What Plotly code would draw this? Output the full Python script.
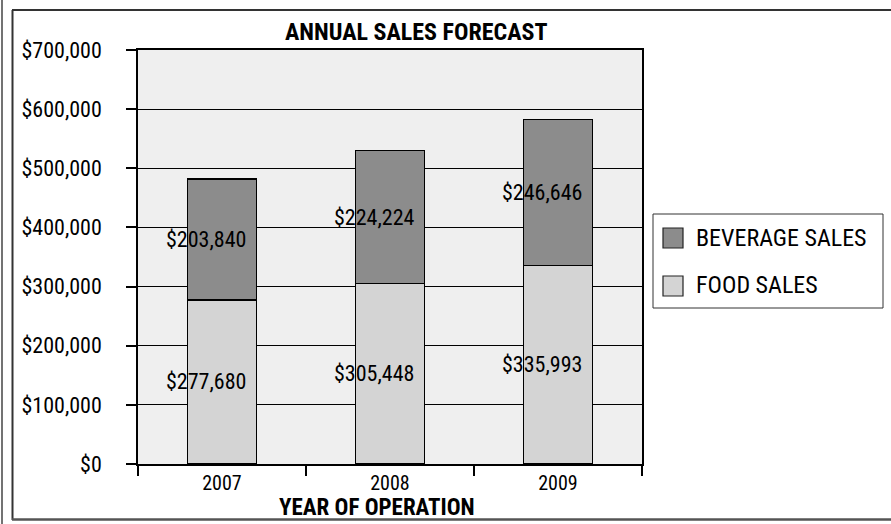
import plotly.graph_objects as go

years = ["2007", "2008", "2009"]
food_sales = [277680, 305448, 335993]
beverage_sales = [203840, 224224, 246646]
series_names = ["BEVERAGE SALES", "FOOD SALES"]
title_text = "ANNUAL SALES FORECAST"
x_title = "YEAR OF OPERATION"

FONT = "Liberation Sans Narrow, Arial Narrow, Roboto Condensed, Liberation Sans, sans-serif"
BEV = "#8c8c8c"
FOOD = "#d4d4d4"

W, H = 891, 524
L, R, T, B = 138, 642, 50, 464  # plot area pixels


def px(x):
    return (x - L) / (R - L)


def py(y):
    return (B - y) / (B - T)


fig = go.Figure()
fig.add_trace(go.Bar(x=years, y=food_sales, name=series_names[1],
                     marker=dict(color=FOOD, line=dict(color="black", width=1.5))))
fig.add_trace(go.Bar(x=years, y=beverage_sales, name=series_names[0],
                     marker=dict(color=BEV, line=dict(color="black", width=1.5))))

annotations = []
for i, (f, b) in enumerate(zip(food_sales, beverage_sales)):
    annotations.append(dict(x=i, y=f / 2, text=f"${f:,}", showarrow=False, xshift=-16,
                            font=dict(family=FONT, size=22, color="black")))
    annotations.append(dict(x=i, y=f + b / 2, text=f"${b:,}", showarrow=False, xshift=-16,
                            font=dict(family=FONT, size=22, color="black")))

annotations.append(dict(xref="paper", yref="paper", x=px(416), y=py(32), text=f"<b>{title_text}</b>",
                        showarrow=False, xanchor="center", yanchor="middle",
                        font=dict(family=FONT, size=24, color="black")))
annotations.append(dict(xref="paper", yref="paper", x=px(377), y=py(507), text=f"<b>{x_title}</b>",
                        showarrow=False, xanchor="center", yanchor="middle",
                        font=dict(family=FONT, size=23, color="black")))

shapes = []
# outer frame
shapes.append(dict(type="line", xref="paper", yref="paper", x0=px(2), x1=px(2), y0=py(0), y1=py(524),
                   line=dict(color="#444", width=1.5)))
shapes.append(dict(type="line", xref="paper", yref="paper", x0=px(12.5), x1=px(12.5), y0=py(10), y1=py(520),
                   line=dict(color="#333", width=2)))
shapes.append(dict(type="line", xref="paper", yref="paper", x0=px(12), x1=px(891), y0=py(10), y1=py(10),
                   line=dict(color="#333", width=2)))
shapes.append(dict(type="line", xref="paper", yref="paper", x0=px(12), x1=px(891), y0=py(519.5), y1=py(519.5),
                   line=dict(color="#555", width=2.5)))
# legend
shapes.append(dict(type="rect", xref="paper", yref="paper", x0=px(653), x1=px(883), y0=py(214), y1=py(308),
                   line=dict(color="#333", width=1), fillcolor="white"))
shapes.append(dict(type="rect", xref="paper", yref="paper", x0=px(663), x1=px(683), y0=py(228), y1=py(248),
                   line=dict(color="#222", width=1.2), fillcolor=BEV))
shapes.append(dict(type="rect", xref="paper", yref="paper", x0=px(663), x1=px(683), y0=py(276), y1=py(296),
                   line=dict(color="#222", width=1.2), fillcolor=FOOD))
annotations.append(dict(xref="paper", yref="paper", x=px(694), y=py(238), text=series_names[0],
                        showarrow=False, xanchor="left", yanchor="middle",
                        font=dict(family=FONT, size=24, color="black")))
annotations.append(dict(xref="paper", yref="paper", x=px(694), y=py(285), text=series_names[1],
                        showarrow=False, xanchor="left", yanchor="middle",
                        font=dict(family=FONT, size=24, color="black")))

fig.update_layout(
    width=W, height=H,
    margin=dict(l=L, r=W - R, t=T, b=H - B, pad=0),
    barmode="stack", bargap=0.59,
    paper_bgcolor="white", plot_bgcolor="#efefef",
    showlegend=False,
    font=dict(family=FONT, size=21, color="black"),
    annotations=annotations, shapes=shapes,
    xaxis=dict(type="category", range=[-0.5, 2.5], autorange=False, automargin=False,
               tickson="boundaries", ticks="outside", ticklen=10, tickcolor="black",
               tickwidth=1.5, showline=True, linecolor="black", linewidth=1.5, mirror=True,
               showgrid=False, tickangle=0, tickfont=dict(family=FONT, size=20, color="black")),
    yaxis=dict(range=[0, 700000], autorange=False, automargin=False, dtick=100000, tickformat="$,.0f",
               ticks="outside", ticklen=10,
               tickcolor="black", tickwidth=1.5, showgrid=True, gridcolor="black", gridwidth=1.2,
               showline=True, linecolor="black", linewidth=1.5, mirror=True, zeroline=False,
               ticklabelstandoff=20, tickfont=dict(family=FONT, size=22, color="black")),
)

fig.write_html("out.html", config={"displayModeBar": False},
               post_script="document.body.style.margin='0';document.body.style.padding='0';")
